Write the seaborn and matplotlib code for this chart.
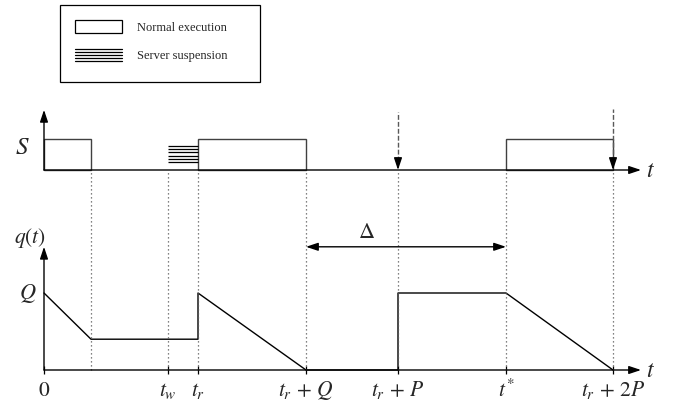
import matplotlib
matplotlib.use("Agg")
import matplotlib.pyplot as plt
import seaborn as sns
import numpy as np
import pandas as pd
from matplotlib.patches import Patch, Rectangle
from matplotlib.lines import Line2D
from matplotlib.legend_handler import HandlerBase

# ---------------- data ----------------
event_times = [47, 124, 154, 262, 354, 462, 569]          # all marked instants
tick_times = [0, 124, 154, 262, 354, 462, 569]
tick_labels = ["$0$", "$t_w$", "$t_r$", r"$t_r\,+\,Q$", r"$t_r\,+\,P$", "$t^{*}$",
               r"$t_r\,+\,2P$"]
exec_starts = [0, 154, 462]                                 # normal execution of server S
exec_ends = [47, 262, 569]
exec_level = 1.0
suspension_start = 124
suspension_end = 154
suspension_levels = [0.25, 0.355, 0.46, 0.57, 0.68, 0.785]
q_time = [0, 47, 154, 154, 262, 354, 354, 462, 569]         # budget q(t)
q_value = [1.0, 0.4, 0.4, 1.0, 0.0, 0.0, 1.0, 1.0, 0.0]
release_times = [354, 569]                                  # replenishment arrows
delta_start, delta_end = 262, 462
legend_labels = ["Normal execution", "Server suspension"]

# ---------------- style ----------------
sns.set_theme(style="white")
plt.rcParams["font.family"] = ["Liberation Serif", "DejaVu Serif"]
plt.rcParams["mathtext.fontset"] = "stix"

W, H = 673, 411
fig = plt.figure(figsize=(W / 100, H / 100), dpi=100)
fig.patch.set_facecolor("white")

x_lim = (-44, 629)
ax_s = fig.add_axes([0, 0, 1, 1])
ax_q = fig.add_axes([0, 0, 1, 1])
for ax in (ax_s, ax_q):
    ax.set_xlim(*x_lim)
    ax.patch.set_alpha(0)
    for sp in ax.spines.values():
        sp.set_visible(False)
ax_s.set_ylim(-(H - 170) / 31, 170 / 31)
ax_q.set_ylim(-(H - 370) / 77, 370 / 77)
ax_s.set_xticks([]); ax_s.set_yticks([])
ax_q.set_yticks([])

head = "-|>,head_length=0.6,head_width=0.2"
arrow_kw = dict(arrowstyle=head, color="black", lw=1.0, mutation_scale=12,
                shrinkA=0, shrinkB=0)
t_axis_end = 597

# ---------- top: server S ----------
ax_s.annotate("", xy=(t_axis_end, 0), xytext=(0, 0), arrowprops=arrow_kw)
ax_s.annotate("", xy=(0, 1.94), xytext=(0, 0), arrowprops=arrow_kw)
widths = [e - s for s, e in zip(exec_starts, exec_ends)]
ax_s.bar(exec_starts, [exec_level] * len(exec_starts), width=widths, align="edge",
         fill=False, edgecolor="0.25", linewidth=1.0)
ax_s.hlines(suspension_levels, suspension_start, suspension_end, color="black", lw=0.9)
ax_s.text(-22, 0.72, "$S$", fontsize=18, ha="center", va="center")
ax_s.text(t_axis_end + 10, -0.05, "$t$", fontsize=17, ha="center", va="center")
rel_tops = [1.87, 1.97]
for rt, top in zip(release_times, rel_tops):
    ax_s.vlines(rt, 0.3, top, color="0.35", lw=1.0, linestyles=(0, (3.5, 1.5)))
    ax_s.annotate("", xy=(rt, 0), xytext=(rt, 0.35), arrowprops=arrow_kw)

# ---------- bottom: budget q(t) ----------
q_df = pd.DataFrame({"t": q_time, "q": q_value})
sns.lineplot(data=q_df, x="t", y="q", ax=ax_q, color="black", lw=1.0,
             estimator=None, sort=False)
ax_q.set_xlabel(""); ax_q.set_ylabel("")
ax_q.annotate("", xy=(t_axis_end, 0), xytext=(0, 0), arrowprops=arrow_kw)
ax_q.annotate("", xy=(0, 1.6), xytext=(0, 0), arrowprops=arrow_kw)
ax_q.annotate("", xy=(delta_end, 1.6), xytext=(delta_start, 1.6),
              arrowprops=dict(arrowstyle="<|-|>,head_length=0.6,head_width=0.2",
                              color="black", lw=1.0, mutation_scale=12, shrinkA=0, shrinkB=0))
ax_q.text(323, 1.77, r"$\Delta$", fontsize=16, ha="center", va="center")
ax_q.text(-14, 1.72, "$q(t)$", fontsize=15.5, ha="center", va="center")
ax_q.text(-16, 1.0, "$Q$", fontsize=16, ha="center", va="center")
ax_q.text(t_axis_end + 10, -0.02, "$t$", fontsize=17, ha="center", va="center")

# small tick marks through the q time axis, labels on a common baseline
ax_q.spines["bottom"].set_position(("data", 0))
ax_q.set_xticks(tick_times)
ax_q.set_xticklabels(tick_labels, fontsize=15.5)
for lbl in ax_q.get_xticklabels():
    lbl.set_verticalalignment("baseline")
ax_q.tick_params(axis="x", direction="inout", length=6, width=0.9, color="black",
                 pad=16, bottom=True)

# dotted guides from S baseline down to q baseline
s_base_disp = ax_s.transData.transform((0, 0))
y_top_q = ax_q.transData.inverted().transform(s_base_disp)[1]
ax_q.vlines(event_times, 0, y_top_q, color="0.35", lw=0.9, linestyles=(0, (1, 2.2)))

# ---------- legend ----------
class HLinesHandler(HandlerBase):
    def create_artists(self, legend, orig_handle, xdescent, ydescent, width, height,
                       fontsize, trans):
        arts = []
        n = 5
        for i in range(n):
            y = -ydescent + height * i / (n - 1)
            arts.append(Line2D([-xdescent, -xdescent + width], [y, y], color="black",
                               lw=0.9, transform=trans))
        return arts

exec_handle = Patch(facecolor="white", edgecolor="black", linewidth=0.9)
susp_handle = Line2D([], [])
ax_s.legend([exec_handle, susp_handle], legend_labels,
            handler_map={susp_handle: HLinesHandler()},
            loc="upper left", bbox_to_anchor=(75 / W, 1 - 20 / H),
            bbox_transform=fig.transFigure, frameon=False, fontsize=9,
            handlelength=3.76, handleheight=1.2, labelspacing=1.2,
            handletextpad=1.2, borderpad=0, borderaxespad=0)
fig.add_artist(Rectangle((60 / W, 1 - 82 / H), 200 / W, 77 / H,
                         transform=fig.transFigure, fill=False,
                         edgecolor="black", linewidth=0.9))

fig.savefig("out.png", dpi=100)
